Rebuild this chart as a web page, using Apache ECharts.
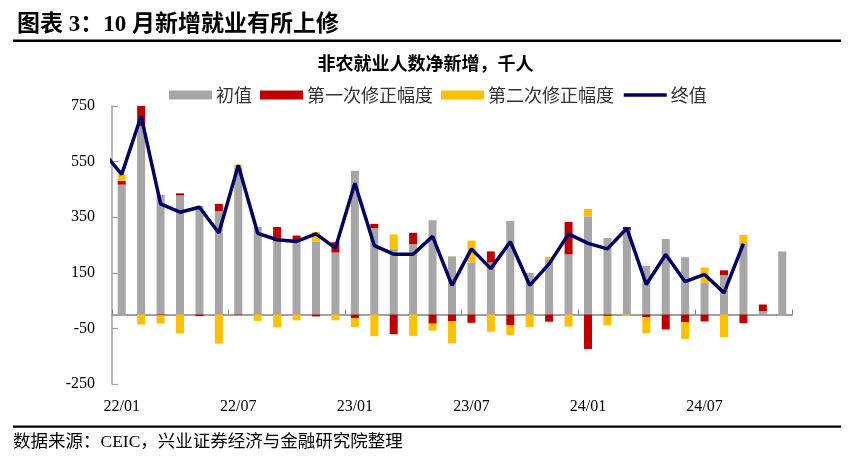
<!DOCTYPE html>
<html>
<head>
<meta charset="utf-8">
<script src="https://cdn.jsdelivr.net/npm/echarts@6/dist/echarts.min.js"></script>
<style>
html,body{margin:0;padding:0;background:#fff;}
#chart{width:859px;height:462px;}
</style>
</head>
<body>
<div id="chart"></div>
<script>
// Months (21/12 is only used for the clipped start of the final-value line)
var categories = ['21/12',
  '22/01','22/02','22/03','22/04','22/05','22/06','22/07','22/08','22/09','22/10','22/11','22/12',
  '23/01','23/02','23/03','23/04','23/05','23/06','23/07','23/08','23/09','23/10','23/11','23/12',
  '24/01','24/02','24/03','24/04','24/05','24/06','24/07','24/08','24/09','24/10','24/11'];
var tickLabels = ['22/01','22/07','23/01','23/07','24/01','24/07'];
// 初值
var initialValues = ['-',
  467,678,431,428,390,372,528,315,263,261,263,223,
  517,311,236,253,339,209,187,187,336,150,199,216,
  353,275,303,175,272,206,114,142,254,12,227];
// 第一次修正幅度
var firstRevision = ['-',
  14,72,-3,8,-6,26,-2,0,52,23,-7,37,
  -13,15,-71,41,-33,-24,-30,40,-39,0,-26,117,
  -124,-5,12,-10,-54,-27,-25,17,-31,24,'-'];
// 第二次修正幅度
var secondRevision = ['-',
  23,-36,-30,-68,2,-105,11,-23,-46,-21,34,-21,
  -32,-78,52,-77,-25,-80,79,-62,-35,-45,9,-43,
  27,-34,-5,-57,-2,-61,55,-81,32,'-','-'];
// 终值
var finalValues = [588,
  504,714,398,368,386,293,537,292,269,263,290,239,
  472,248,217,217,281,105,236,165,262,105,182,290,
  256,236,310,108,216,118,144,78,255,'-','-'];
var yTicks = {min: -250, max: 750, interval: 200};

var chart = echarts.init(document.getElementById('chart'), null, {renderer: 'canvas'});
var serif = '"Liberation Serif", "Times New Roman", "Noto Sans CJK SC", serif';
var cjk = '"Liberation Serif", "Noto Sans CJK SC", sans-serif';
function showLabel(idx, val) { return tickLabels.indexOf(val) >= 0; }

var option = {
  animation: false,
  backgroundColor: '#fff',
  title: {
    text: '图表 3：10 月新增就业有所上修',
    left: 12, top: 9,
    textStyle: {fontFamily: cjk, fontSize: 23, fontWeight: 'bold', color: '#000'}
  },
  graphic: [
    {type: 'rect', shape: {x: 13, y: 39.5, width: 828, height: 2.4}, style: {fill: '#000'}, silent: true},
    {type: 'rect', shape: {x: 13, y: 425.6, width: 828, height: 2.2}, style: {fill: '#000'}, silent: true},
    {type: 'text', x: 425.5, y: 63, style: {text: '非农就业人数净新增，千人', fill: '#000',
      font: 'bold 18px "Noto Sans CJK SC", sans-serif', textAlign: 'center', textVerticalAlign: 'middle'}},
    {type: 'text', x: 13, y: 442, style: {text: '数据来源：CEIC，兴业证券经济与金融研究院整理', fill: '#000',
      font: '17.5px "Liberation Serif", "Noto Sans CJK SC", serif', textAlign: 'left', textVerticalAlign: 'middle'}}
  ],
  legend: {
    left: 164, top: 81,
    itemWidth: 43, itemHeight: 9, itemGap: 8,
    textStyle: {fontFamily: '"Noto Sans CJK SC", sans-serif', fontSize: 18, lineHeight: 18, color: '#333', padding: [0,0,0,-1]},
    data: [
      {name: '初值', icon: 'rect'},
      {name: '第一次修正幅度', icon: 'rect'},
      {name: '第二次修正幅度', icon: 'rect'},
      {name: '终值', itemStyle: {color: 'rgba(0,0,0,0)', borderWidth: 0, opacity: 0}, lineStyle: {width: 3.5, color: '#000066'}}
    ]
  },
  grid: {left: 112, right: 67, top: 106, bottom: 78, containLabel: false, outerBoundsMode: 'none'},
  xAxis: [
    {
      type: 'category',
      data: categories,
      min: 1,
      boundaryGap: true,
      axisLine: {onZero: true, lineStyle: {color: '#a0a0a0', width: 2}},
      axisTick: {show: true, inside: true, length: 5, interval: showLabel, lineStyle: {color: '#808080', width: 1}},
      axisLabel: {show: false},
      splitLine: {show: false}
    },
    {
      type: 'category',
      data: categories,
      min: 1,
      boundaryGap: true,
      position: 'bottom',
      axisLine: {show: false, onZero: false},
      axisTick: {show: false},
      axisLabel: {show: true, interval: showLabel, margin: 15, fontFamily: serif, fontSize: 16, color: '#000'},
      splitLine: {show: false}
    }
  ],
  yAxis: {
    type: 'value',
    min: yTicks.min, max: yTicks.max, interval: yTicks.interval,
    axisLine: {show: true, lineStyle: {color: '#a0a0a0', width: 1.5}},
    axisTick: {show: true, inside: true, length: 6, lineStyle: {color: '#a0a0a0', width: 1.2}},
    axisLabel: {margin: 17, fontFamily: serif, fontSize: 16, color: '#000'},
    splitLine: {show: false}
  },
  series: [
    {name: '初值', type: 'bar', stack: 'rev', barWidth: 8, data: initialValues,
      itemStyle: {color: '#A6A6A6'}},
    {name: '第一次修正幅度', type: 'bar', stack: 'rev', barWidth: 8, data: firstRevision,
      itemStyle: {color: '#C00000'}},
    {name: '第二次修正幅度', type: 'bar', stack: 'rev', barWidth: 8, data: secondRevision,
      itemStyle: {color: '#FFC000'}},
    {name: '终值', type: 'line', data: finalValues, symbol: 'none', showSymbol: false, z: 5,
      clip: true, connectNulls: false,
      lineStyle: {color: '#000066', width: 3.5}, itemStyle: {color: '#000066'}}
  ]
};
chart.setOption(option);
</script>
</body>
</html>
